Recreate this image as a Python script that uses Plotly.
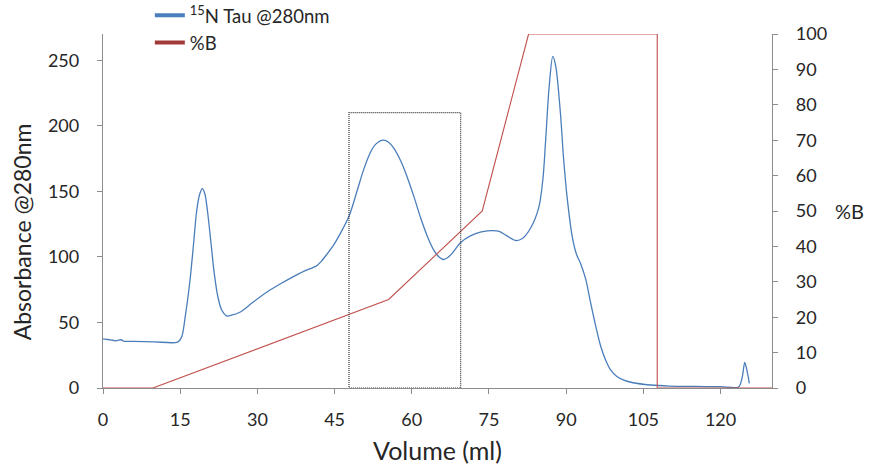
import plotly.graph_objects as go

# Absorbance trace at 280 nm (volume in ml, absorbance in mAU)
volume_ml = [0, 1, 2.5, 3.5, 4, 6, 10, 14.5, 15.3, 16, 16.9, 17.6, 18.2, 18.8, 19.3,
             19.8, 20.3, 21, 21.6, 22.3, 23, 24, 25, 26.7, 29, 31.8, 34.5, 37, 39,
             40.9, 41.6, 42.5, 43.5, 44.8, 46, 47.9, 49.5, 50.6, 52, 53, 54.5, 55.5,
             56.5, 58, 59.1, 60.5, 61.7, 63, 64.3, 65.3, 66.2, 67, 67.8, 69.5, 71.4,
             73.5, 75.3, 77, 78.5, 80.2, 81.5, 83.1, 84.7, 85.5, 86, 86.7, 87.4, 88,
             88.9, 89.5, 90.2, 91.2, 92, 92.8, 93.8, 94.7, 95.7, 96.7, 97.7, 98.6,
             99.8, 101.2, 103, 106.4, 110, 115, 120, 123.5, 124.2, 124.7, 125.1, 125.6]
absorbance = [37.5, 37, 36, 36.8, 35.8, 35.5, 35.2, 35, 39, 55, 82, 110, 135, 148, 152,
              148, 135, 110, 88, 70, 60, 55, 55.5, 58, 65, 73, 79.5, 85, 89,
              92, 93.5, 97, 102, 109, 117, 132, 152, 166, 180, 186, 189, 187.5,
              183, 172, 161, 145, 130, 116, 105, 100, 98, 99.5, 102.5, 111, 116,
              119, 120, 119.5, 116, 112.5, 114, 122, 138, 160, 188, 230, 253, 245,
              209, 175, 145, 115, 102, 95, 83, 66, 48, 32, 21, 14,
              9, 6, 4, 2.3, 1.5, 1.2, 1, 0.8, 8, 19.5, 14, 3.6]

# Elution gradient (% buffer B)
gradient_ml = [0, 9.7, 55.5, 73.7, 82.7, 107.7, 107.7, 130]
percent_b = [0, 0, 25, 50, 100, 100, 0, 0]

# Pooled fraction window
pool_ml = [47.8, 69.5]
pool_top = 210

x_ticks = [0, 15, 30, 45, 60, 75, 90, 105, 120]
abs_ticks = [0, 50, 100, 150, 200, 250]
b_ticks = list(range(0, 101, 10))

FONT = "Lato"
TXT = "#262626"
AXIS = "#8c8c8c"
BLUE = "#4a7ebb"
RED = "#c0504d"

fig = go.Figure()

fig.add_trace(go.Scatter(
    x=volume_ml, y=absorbance, mode="lines",
    line=dict(color=BLUE, width=1.3, shape="spline", smoothing=0.8),
    showlegend=False, yaxis="y"))
fig.add_trace(go.Scatter(
    x=gradient_ml, y=percent_b, mode="lines",
    line=dict(color=RED, width=1.1),
    showlegend=False, yaxis="y2"))

# legend entries with heavier swatches
fig.add_trace(go.Scatter(
    x=[None], y=[None], mode="lines", name="<sup>15</sup>N Tau @280nm",
    line=dict(color=BLUE, width=4), legendgroup="a"))
fig.add_trace(go.Scatter(
    x=[None], y=[None], mode="lines", name="%B",
    line=dict(color="#a33a3a", width=4), legendgroup="b"))

fig.add_shape(type="rect", xref="x", yref="y",
              x0=pool_ml[0], x1=pool_ml[1], y0=0, y1=pool_top,
              line=dict(color="#333333", width=1.2, dash="1px,1px"))

axis_common = dict(
    showline=True, linecolor=AXIS, linewidth=1.3,
    ticks="outside", ticklen=5, tickcolor=AXIS, tickwidth=1.3,
    showgrid=False, zeroline=False,
    tickfont=dict(family=FONT, size=18, color=TXT),
    layer="below traces",
)

fig.update_layout(
    width=869, height=467,
    margin=dict(l=103, r=97, t=34, b=79, autoexpand=False),
    paper_bgcolor="white", plot_bgcolor="white",
    font=dict(family=FONT, color=TXT),
    xaxis=dict(range=[0, 130], tickvals=x_ticks, ticklabelstandoff=10,
               title=dict(text="Volume (ml)", font=dict(family=FONT, size=25, color=TXT),
                          standoff=13),
               **axis_common),
    yaxis=dict(range=[0, 270], tickvals=abs_ticks, ticklabelstandoff=14,
               **axis_common),
    yaxis2=dict(range=[0, 100], tickvals=b_ticks, overlaying="y", side="right",
                ticklabelstandoff=14, **axis_common),
    legend=dict(x=0.07, y=1.105, xanchor="left", yanchor="top",
                font=dict(family=FONT, size=18.5, color=TXT),
                bgcolor="rgba(0,0,0,0)", traceorder="grouped", tracegroupgap=0),
    annotations=[
        dict(text="Absorbance @280nm", xref="paper", yref="paper",
             x=-0.121, y=0.44, textangle=-90, showarrow=False,
             xanchor="center", yanchor="middle",
             font=dict(family=FONT, size=23, color=TXT)),
        dict(text="%B", xref="paper", yref="paper", x=1.14, y=0.5,
             showarrow=False, font=dict(family=FONT, size=20, color=TXT)),
    ],
)

fig.write_html("out.html")
